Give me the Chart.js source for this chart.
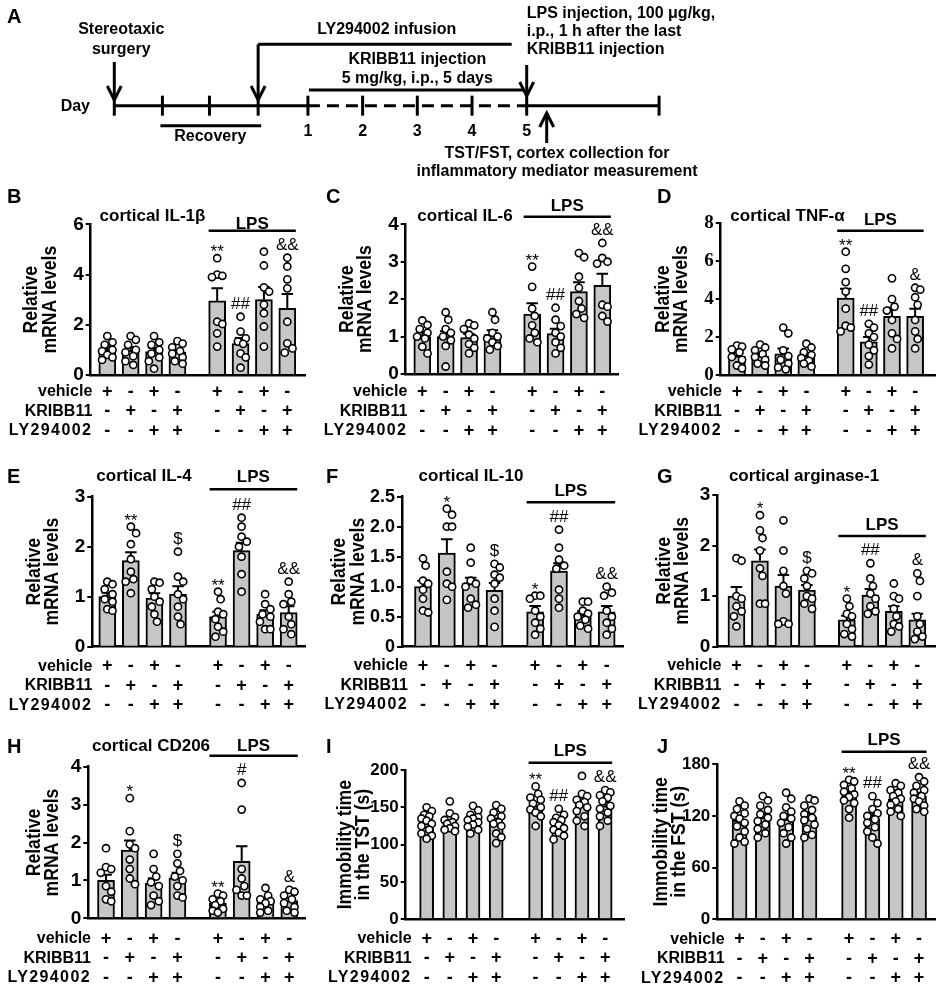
<!DOCTYPE html>
<html><head><meta charset="utf-8">
<script src="https://cdn.jsdelivr.net/npm/chart.js@4.4.1/dist/chart.umd.min.js"></script>
<style>
html,body{margin:0;padding:0;background:#fff;}
body{width:941px;height:985px;position:relative;overflow:hidden;}
canvas{position:absolute;}
</style></head>
<body>
<script>
// ---------------- DATA ----------------
const vehicleRow = ['+','-','+','-','+','-','+','-'];
const kribbRow   = ['-','+','-','+','-','+','-','+'];
const lyRow      = ['-','-','+','+','-','-','+','+'];
const rowNames   = ['vehicle','KRIBB11','LY294002'];

// timeline (panel A), in day units (day 1 = 0)
const timelineTicks = [-3.54,-2.66,-1.8,-0.91,0,1,2,3,4,6.42];
const timelineDays  = ['','','','','1','2','3','4','5',''];

// B: cortical IL-1beta
const il1bTicks = [0,2,4,6];
const il1bMeans = [1.0,0.98,0.93,0.9,2.95,1.25,3.0,2.65];
const il1bSem   = [0.12,0.13,0.15,0.1,0.5,0.22,0.5,0.57];
const il1bPoints = [
 [1.55,1.3,1.2,1.0,0.95,0.8,0.7,0.6],
 [1.55,1.4,1.2,1.0,0.9,0.75,0.55,0.4],
 [1.55,1.3,1.2,1.0,0.85,0.7,0.55,0.25],
 [1.35,1.25,1.1,0.95,0.85,0.7,0.55,0.45],
 [4.65,4.0,3.95,3.9,2.12,2.03,1.66,1.13],
 [2.32,1.73,1.46,1.33,1.24,0.86,0.7,0.29],
 [4.91,4.36,3.49,3.32,2.8,2.46,1.93,1.13],
 [4.67,4.32,3.81,3.45,2.12,1.26,1.06,0.89]];
const il1bSig = ['','','','','**','##','','&&'];

// C: cortical IL-6
const il6Ticks = [0,1,2,3,4];
const il6Means = [1.0,1.0,0.97,1.05,1.6,1.08,2.2,2.37];
const il6Sem   = [0.12,0.14,0.1,0.12,0.29,0.13,0.25,0.31];
const il6Points = [
 [1.43,1.31,1.2,1.1,1.0,0.95,0.73,0.55],
 [1.65,1.45,1.2,1.1,1.0,0.9,0.75,0.2],
 [1.35,1.3,1.2,1.05,0.95,0.8,0.7,0.55],
 [1.65,1.45,1.1,1.0,0.95,0.85,0.75,0.65],
 [2.87,2.33,1.75,1.55,1.3,1.1,0.95,0.85],
 [1.77,1.45,1.28,1.1,1.0,0.85,0.7,0.55],
 [3.23,3.12,2.6,2.3,1.95,1.75,1.6,1.5],
 [3.5,3.1,3.0,2.95,1.85,1.8,1.55,1.4]];
const il6Sig = ['','','','','**','##','','&&'];

// D: cortical TNF-alpha
const tnfTicks = [0,2,4,6,8];
const tnfMeans = [1.0,1.0,1.12,1.02,4.05,1.75,3.1,3.1];
const tnfSem   = [0.15,0.14,0.28,0.14,0.5,0.25,0.45,0.4];
const tnfPoints = [
 [1.55,1.5,1.35,1.2,0.95,0.8,0.5,0.35],
 [1.6,1.45,1.3,1.1,0.95,0.8,0.6,0.5],
 [2.5,2.2,1.3,1.0,0.8,0.6,0.4,0.3],
 [1.65,1.45,1.2,1.05,0.9,0.75,0.6,0.45],
 [6.5,5.6,4.9,4.4,3.5,2.6,2.3,2.5],
 [2.7,2.5,2.2,2.0,1.6,1.3,1.0,0.55],
 [5.1,4.0,3.6,3.4,2.9,2.2,1.9,1.4],
 [4.6,4.5,4.1,3.7,2.9,2.3,1.9,1.4]];
const tnfSig = ['','','','','**','##','','&'];

// E: cortical IL-4
const il4Ticks = [0,1,2,3];
const il4Means = [1.0,1.72,0.97,1.05,0.6,1.92,0.65,0.68];
const il4Sem   = [0.08,0.17,0.1,0.16,0.1,0.16,0.08,0.13];
const il4Points = [
 [1.3,1.25,1.15,1.05,0.95,0.9,0.75,0.72],
 [2.4,2.27,2.05,1.75,1.5,1.35,1.3,1.07],
 [1.3,1.28,1.15,1.0,0.9,0.8,0.65,0.5],
 [1.9,1.4,1.3,1.05,0.95,0.8,0.6,0.45],
 [1.1,0.95,0.7,0.65,0.55,0.4,0.3,0.2],
 [2.58,2.4,2.2,2.1,2.0,1.8,1.45,1.1],
 [1.05,0.85,0.75,0.65,0.6,0.5,0.35,0.35],
 [1.3,1.05,0.9,0.85,0.6,0.45,0.35,0.25]];
const il4Sig = ['','**','','$','**','##','','&&'];

// F: cortical IL-10
const il10Ticks = [0,0.5,1.0,1.5,2.0,2.5];
const il10Labels = ['0','0.5','1.0','1.5','2.0','2.5'];
const il10Means = [1.0,1.56,1.05,0.94,0.58,1.26,0.53,0.58];
const il10Sem   = [0.1,0.23,0.1,0.12,0.1,0.13,0.06,0.1];
const il10Points = [
 [1.47,1.35,1.1,1.05,0.95,0.8,0.6,0.57],
 [2.3,2.2,2.0,2.0,1.25,1.05,1.0,0.78],
 [1.65,1.4,1.1,1.05,1.0,0.8,0.7,0.65],
 [1.38,1.32,1.2,1.15,1.05,0.8,0.6,0.33],
 [0.85,0.85,0.8,0.6,0.5,0.4,0.3,0.2],
 [1.95,1.65,1.45,1.35,1.3,0.95,0.8,0.65],
 [0.75,0.75,0.6,0.55,0.5,0.45,0.35,0.3],
 [1.0,0.9,0.85,0.6,0.5,0.4,0.3,0.2]];
const il10Sig = ['','*','','$','*','##','','&&'];

// G: cortical arginase-1
const argTicks = [0,1,2,3];
const argMeans = [1.0,1.7,1.2,1.12,0.53,1.02,0.7,0.53];
const argSem   = [0.18,0.22,0.22,0.1,0.08,0.12,0.1,0.12];
const argPoints = [
 [1.75,1.7,1.0,0.95,0.8,0.7,0.6,0.4],
 [2.6,2.3,2.15,1.9,1.55,1.4,0.85,0.85],
 [2.5,1.9,1.5,1.2,1.05,0.5,0.45,0.45],
 [1.5,1.45,1.35,1.2,1.0,0.95,0.85,0.75],
 [0.95,0.8,0.65,0.6,0.45,0.35,0.25,0.2],
 [1.65,1.35,1.2,1.05,0.95,0.8,0.7,0.65],
 [1.25,1.0,0.95,0.75,0.6,0.45,0.4,0.3],
 [1.45,1.3,1.0,0.6,0.45,0.3,0.2,0.15]];
const argSig = ['','*','','$','*','##','','&'];

// H: cortical CD206
const cd206Ticks = [0,1,2,3,4];
const cd206Means = [1.0,1.8,0.92,1.07,0.4,1.5,0.43,0.47];
const cd206Sem   = [0.15,0.25,0.14,0.13,0.06,0.4,0.07,0.07];
const cd206Points = [
 [1.85,1.35,1.3,1.2,0.85,0.7,0.5,0.45],
 [3.17,2.3,1.95,1.85,1.55,1.3,1.05,0.9],
 [1.7,1.3,1.1,0.95,0.85,0.6,0.45,0.35],
 [1.7,1.45,1.25,1.1,1.0,0.85,0.6,0.55],
 [0.65,0.6,0.5,0.45,0.35,0.25,0.2,0.15],
 [3.57,2.87,1.3,1.05,0.85,0.75,0.6,0.6],
 [0.8,0.6,0.5,0.45,0.4,0.3,0.2,0.15],
 [0.75,0.7,0.6,0.5,0.4,0.3,0.2,0.15]];
const cd206Sig = ['','*','','$','**','#','','&'];

// I: immobility time in the TST
const tstTicks = [0,50,100,150,200];
const tstMeans = [130,129,133,130,152,128,155,152];
const tstSem   = [4,4,3.5,5,5,4,5.5,5];
const tstPoints = [
 [150,145,140,138,135,132,128,125,120,115,112,108],
 [158,142,137,133,130,128,125,122,120,118],
 [152,146,140,137,135,133,130,127,124,120,115],
 [153,148,143,138,135,130,128,125,115,110,102],
 [178,168,163,160,155,150,147,143,138,125],
 [148,140,136,133,130,126,122,120,116,112,107],
 [192,168,165,160,157,153,150,145,138,132,125],
 [173,170,166,163,158,152,148,143,138,132,125]];
const tstSig = ['','','','','**','##','','&&'];

// J: immobility time in the FST
const fstTicks = [0,60,120,180];
const fstMeans = [115,118,116,119,145,117,140,143];
const fstSem   = [5,5,6,5,4,5,4,4];
const fstPoints = [
 [137,132,128,123,120,117,112,108,102,95,90,88],
 [143,138,132,127,122,118,114,110,105,100,95],
 [147,140,130,125,120,117,112,107,100,95,88],
 [140,138,132,127,122,118,115,110,105,98,95],
 [162,160,156,152,148,145,142,138,135,128,118],
 [143,135,128,123,120,116,112,107,102,95,88],
 [158,155,150,147,143,140,137,133,128,125,120],
 [165,160,155,150,147,143,140,137,132,128,125]];
const fstSig = ['','','','','**','##','','&&'];

// ---------------- LAYOUT ----------------
const SANS = '"Liberation Sans", Arial, Helvetica, sans-serif';
const SERIF = '"Liberation Serif", "Times New Roman", serif';
const slots = [0,1,2,3,4.7,5.7,6.7,7.7];

function makeCanvas(x,y,w,h){
  const c=document.createElement('canvas');
  c.width=w;c.height=h;
  c.style.left=x+'px';c.style.top=y+'px';c.style.width=w+'px';c.style.height=h+'px';
  document.body.appendChild(c);
  return c;
}

function swarm(vals, pxY, maxHalf){
  const order = vals.map((v,i)=>i).sort((a,b)=>vals[b]-vals[a]);
  const placed=[]; const off=new Array(vals.length).fill(0);
  const D=7.6, step=2.6;
  const cands=[0];
  for(let k=1;k*step<=maxHalf;k++){cands.push(k*step,-k*step);}
  for(const i of order){
    const y=vals[i]*pxY;
    let best=0,bestScore=-1;
    for(const c of cands){
      let mind=Infinity;
      for(const p of placed){const d=Math.hypot(p.x-c,p.y-y);if(d<mind)mind=d;}
      if(mind>=D){best=c;bestScore=Infinity;break;}
      if(mind>bestScore){bestScore=mind;best=c;}
    }
    placed.push({x:best,y});off[i]=best;
  }
  return off;
}

function drawArrow(c,x,fromY,tipY){
  const dir = tipY>fromY?1:-1;
  c.beginPath();c.moveTo(x,fromY);c.lineTo(x,tipY);c.stroke();
  c.beginPath();c.moveTo(x-7,tipY-dir*14);c.lineTo(x,tipY);c.lineTo(x+7,tipY-dir*14);c.stroke();
}

// ---------------- PANEL A (timeline) ----------------
(function(){
  const W=941,H=183;
  const cv=makeCanvas(0,0,W,H);
  const deco={
    id:'timelineDeco',
    afterDraw(chart){
      const c=chart.ctx, xs=chart.scales.x;
      const tx=i=>xs.getPixelForValue(timelineTicks[i]);
      c.save();
      c.fillStyle='#000';c.strokeStyle='#000';c.lineWidth=3;c.lineJoin='miter';c.lineCap='butt';
      c.font='bold 20px '+SANS;c.textAlign='left';c.textBaseline='middle';
      c.fillText('A',7,17);
      c.font='bold 16px '+SANS;c.textAlign='center';
      c.fillText('Stereotaxic',tx(0)+7,29.3);
      c.fillText('surgery',tx(0)+7,49.3);
      drawArrow(c,tx(0),62,100);
      c.fillText('LY294002 infusion',386.7,29.3);
      c.beginPath();c.moveTo(tx(3),44.3);c.lineTo(511.7,44.3);c.stroke();
      drawArrow(c,tx(3),44.3,100);
      const mid=(tx(4)+tx(8))/2;
      c.fillText('KRIBB11 injection',mid,60);
      c.fillText('5 mg/kg, i.p., 5 days',mid,78.3);
      c.beginPath();c.moveTo(tx(4)+1,90);c.lineTo(tx(8)-3,90);c.stroke();
      c.textAlign='right';c.fillText('Day',90,107);
      c.textAlign='center';
      timelineDays.forEach((d,i)=>{if(d)c.fillText(d,tx(i),131.7);});
      c.beginPath();c.moveTo(tx(1)-2,125.7);c.lineTo(tx(3)+3,125.7);c.stroke();
      c.fillText('Recovery',(tx(1)+tx(3))/2,137);
      c.textAlign='left';
      c.fillText('LPS injection, 100 \u03BCg/kg,',526.7,13.3);
      c.fillText('i.p., 1 h after the last',526.7,31.7);
      c.fillText('KRIBB11 injection',526.7,50);
      drawArrow(c,tx(8),65,96);
      const ax=tx(8)+20;
      drawArrow(c,ax,143,113);
      c.textAlign='center';
      c.fillText('TST/FST, cortex collection for',557,153.3);
      c.fillText('inflammatory mediator measurement',557,171.3);
      c.restore();
    }
  };
  new Chart(cv.getContext('2d'),{
    type:'line',
    data:{datasets:[{
      data:timelineTicks.map(x=>({x,y:0})),
      borderColor:'#000',borderWidth:3,tension:0,
      pointStyle:'line',rotation:90,pointRadius:10,pointBorderWidth:3,pointBorderColor:'#000',
      pointBackgroundColor:'#000',clip:false,
      segment:{borderDash:ctx=>(ctx.p0.parsed.x>=0&&ctx.p1.parsed.x<=4)?[12,7]:undefined}
    }]},
    options:{
      responsive:false,animation:false,
      layout:{padding:0},
      plugins:{legend:{display:false},tooltip:{enabled:false}},
      scales:{
        x:{type:'linear',display:false,min:-303.3/56.25,max:(941-303.3)/56.25},
        y:{type:'linear',display:false,min:-75,max:108}
      }
    },
    plugins:[deco]
  });
})();

// ---------------- BAR PANELS ----------------
function barPanel(g,d){
  const [cl,ct,cw,ch]=g.box;
  const pxX=(g.bar8-g.bar1)/(slots[7]-slots[0]);
  const xMin=slots[0]-(g.bar1-g.axisX)/pxX;
  const xMax=slots[7]+(g.axisEnd-g.bar8)/pxX;
  const yMax=d.yTicks[d.yTicks.length-1];
  const pxY=(g.y0-g.yTop)/yMax;
  const barW=Math.round(pxX*(g.barFrac||0.72));
  const pts=[];
  d.points.forEach((vals,i)=>{
    const offs=swarm(vals,pxY,barW/2-1.5);
    vals.forEach((v,k)=>pts.push({x:slots[i]+offs[k]/pxX,y:v}));
  });
  const lh=19.5;
  const labels=d.yLabels||d.yTicks.map(String);
  const cv=makeCanvas(cl,ct,cw,ch);
  const deco={
    id:'deco'+d.letter,
    afterDatasetDraw(chart,args){
      if(args.index!==0)return;
      const c=chart.ctx,xs=chart.scales.x,ys=chart.scales.y;
      c.save();c.strokeStyle='#000';c.lineWidth=2;
      d.means.forEach((m,i)=>{
        const x=xs.getPixelForValue(slots[i]);
        const yT=ys.getPixelForValue(m+d.sem[i]);
        const yM=ys.getPixelForValue(m);
        const cap=barW*0.34;
        c.beginPath();c.moveTo(x,yM);c.lineTo(x,yT);c.moveTo(x-cap,yT);c.lineTo(x+cap,yT);c.stroke();
      });
      c.restore();
    },
    afterDraw(chart){
      const c=chart.ctx,xs=chart.scales.x,ys=chart.scales.y;
      c.save();c.fillStyle='#000';c.strokeStyle='#000';
      c.font='bold 20px '+SANS;c.textAlign='left';c.textBaseline='middle';
      c.fillText(d.letter,g.letter[0]-cl,g.letter[1]-ct);
      if(d.title){c.font='bold 17px '+SANS;c.textAlign='center';c.fillText(d.title,g.title[0]-cl,g.title[1]-ct);}
      const lx0=xs.getPixelForValue(slots[4])-barW/2, lx1=xs.getPixelForValue(slots[7])+barW/2;
      c.lineWidth=2.5;c.beginPath();c.moveTo(lx0,g.lpsLineY-ct);c.lineTo(lx1,g.lpsLineY-ct);c.stroke();
      c.font='bold 17px '+SANS;c.textAlign='center';
      c.fillText('LPS',(lx0+lx1)/2,g.lpsTextY-ct);
      // y-axis title (two rotated lines, baseline positions given)
      const yc=(g.yTop+g.y0)/2-ct;
      c.font='bold 21px '+SANS;
      d.yTitle.forEach((t,k)=>{
        c.save();c.translate(g.yTitleX[k]-cl-(k===0?1.5:0),yc);c.rotate(-Math.PI/2);c.scale(0.84,1);
        c.textAlign='center';c.textBaseline='alphabetic';c.fillText(t,0,0);c.restore();
      });
      // row labels
      c.font='bold 16px '+SANS;c.textAlign='right';c.textBaseline='middle';
      rowNames.forEach((r,k)=>{
        c.save();
        if(k===2){c.letterSpacing='1.4px';}
        c.fillText(r,xs.getPixelForValue(slots[0])-15,g.y0-ct+g.rowOff+k*lh);
        c.restore();
      });
      // significance marks
      c.textAlign='center';c.textBaseline='alphabetic';c.font='17px '+SANS;
      d.sig.forEach((s,i)=>{
        if(!s)return;
        const top=Math.max(...d.points[i],d.means[i]+d.sem[i]);
        const py=ys.getPixelForValue(top);
        const x=xs.getPixelForValue(slots[i]);
        c.fillText(s,x,s.includes('*')?py-1:py-8);
      });
      c.restore();
    }
  };
  new Chart(cv.getContext('2d'),{
    type:'bar',
    data:{datasets:[
      {type:'bar',data:slots.map((x,i)=>({x,y:d.means[i]})),backgroundColor:'#c6c6c6',
       borderColor:'#000',borderWidth:2,barThickness:barW,order:2},
      {type:'scatter',data:pts,pointRadius:3.6,pointBackgroundColor:'#fff',pointBorderColor:'#000',
       pointBorderWidth:1.6,order:1,clip:false}
    ]},
    options:{
      responsive:false,animation:false,
      layout:{padding:{top:g.yTop-ct,left:0,right:cl+cw-g.axisEnd,bottom:0}},
      plugins:{legend:{display:false},tooltip:{enabled:false}},
      scales:{
        x:{type:'linear',min:xMin,max:xMax,offset:false,
          grid:{display:false,drawTicks:false},
          border:{display:true,color:'#000',width:2.5},
          afterBuildTicks:s=>{s.ticks=slots.map(v=>({value:v}));},
          afterFit:s=>{s.height=ct+ch-g.y0;},
          ticks:{autoSkip:false,maxRotation:0,minRotation:0,padding:g.rowOff-lh/2,color:'#000',
            font:{family:SANS,size:18,weight:'bold',lineHeight:lh/18},
            callback:(v,i)=>[vehicleRow[i],kribbRow[i],lyRow[i]]}
        },
        y:{type:'linear',min:0,max:yMax,
          grid:{drawOnChartArea:false,drawTicks:true,tickLength:5,color:'#000',lineWidth:2},
          border:{display:true,color:'#000',width:2.5},
          afterBuildTicks:s=>{s.ticks=d.yTicks.map(v=>({value:v}));},
          afterFit:s=>{s.width=g.axisX-cl;},
          ticks:{padding:2,color:'#000',font:{family:d.serif?SERIF:SANS,size:d.tickSize||18,weight:'bold'},
            callback:(v,i)=>labels[i]}
        }
      }
    },
    plugins:[deco]
  });
}

const rel=['Relative','mRNA levels'];
barPanel({box:[0,183,315,257],axisX:90.7,bar1:107.3,bar8:287.3,axisEnd:305,yTop:224.3,y0:375,rowOff:17,
  yTitleX:[38,55.5],title:[152.5,216.7],lpsTextY:224,lpsLineY:230.7,letter:[7,197]},
  {letter:'B',title:'cortical IL-1\u03B2',yTitle:rel,yTicks:il1bTicks,means:il1bMeans,sem:il1bSem,points:il1bPoints,sig:il1bSig,tickSize:19});
barPanel({box:[315,183,315,257],axisX:405.7,bar1:422.3,bar8:602.3,axisEnd:618.3,yTop:224.3,y0:374,rowOff:17.7,
  yTitleX:[354,371],title:[465,216.7],lpsTextY:206.7,lpsLineY:216.7,letter:[326,197]},
  {letter:'C',title:'cortical IL-6',yTitle:rel,yTicks:il6Ticks,means:il6Means,sem:il6Sem,points:il6Points,sig:il6Sig,tickSize:19});
barPanel({box:[630,183,311,257],axisX:720.7,bar1:737.3,bar8:919.3,axisEnd:940,yTop:223.3,y0:375,rowOff:17,
  yTitleX:[670,687],title:[787.5,216.7],lpsTextY:220,lpsLineY:230.7,letter:[657,197]},
  {letter:'D',title:'cortical TNF-\u03B1',yTitle:rel,yTicks:tnfTicks,means:tnfMeans,sem:tnfSem,points:tnfPoints,sig:tnfSig,serif:true,tickSize:19});
barPanel({box:[0,458,315,257],axisX:92.3,bar1:107.3,bar8:288.7,axisEnd:305,yTop:496.7,y0:646.7,rowOff:19.7,
  yTitleX:[41,57.5],title:[144,476.7],lpsTextY:477.7,lpsLineY:489.3,letter:[7,477]},
  {letter:'E',title:'cortical IL-4',yTitle:rel,yTicks:il4Ticks,means:il4Means,sem:il4Sem,points:il4Points,sig:il4Sig,tickSize:19});
barPanel({box:[315,458,315,257],axisX:402,bar1:423,bar8:606.7,axisEnd:623.3,yTop:496.7,y0:646.7,rowOff:19.3,
  yTitleX:[346,364],title:[471,476],lpsTextY:491.7,lpsLineY:502.3,letter:[326,477]},
  {letter:'F',title:'cortical IL-10',yTitle:rel,yTicks:il10Ticks,yLabels:il10Labels,means:il10Means,sem:il10Sem,points:il10Points,sig:il10Sig});
barPanel({box:[630,458,311,257],axisX:717.3,bar1:736.7,bar8:920,axisEnd:938.3,yTop:495,y0:646.7,rowOff:19.3,
  yTitleX:[671,688],title:[804,476.7],lpsTextY:525,lpsLineY:536,letter:[657,477]},
  {letter:'G',title:'cortical arginase-1',yTitle:rel,yTicks:argTicks,means:argMeans,sem:argSem,points:argPoints,sig:argSig,tickSize:19});
barPanel({box:[0,728,315,257],axisX:88.3,bar1:106,bar8:289.3,axisEnd:305,yTop:766.7,y0:918.3,rowOff:20.4,
  yTitleX:[41,57.5],title:[151,746],lpsTextY:746,lpsLineY:755.7,letter:[7,747]},
  {letter:'H',title:'cortical CD206',yTitle:rel,yTicks:cd206Ticks,means:cd206Means,sem:cd206Sem,points:cd206Points,sig:cd206Sig,tickSize:19});
barPanel({box:[315,728,315,257],axisX:405.7,bar1:426.7,bar8:605.7,axisEnd:625,yTop:770,y0:919.3,rowOff:19.4,barFrac:0.62,
  yTitleX:[352,368.5],title:null,lpsTextY:751.7,lpsLineY:762.7,letter:[326,747]},
  {letter:'I',title:null,yTitle:['Immobility time','in the TST (s)'],yTicks:tstTicks,means:tstMeans,sem:tstSem,points:tstPoints,sig:tstSig,tickSize:17});
barPanel({box:[630,728,311,257],axisX:717.3,bar1:740,bar8:923.3,axisEnd:940,yTop:764.3,y0:919.3,rowOff:20,barFrac:0.64,
  yTitleX:[668,684.5],title:null,lpsTextY:740,lpsLineY:751.7,letter:[657,747]},
  {letter:'J',title:null,yTitle:['Immobility time','in the FST (s)'],yTicks:fstTicks,means:fstMeans,sem:fstSem,points:fstPoints,sig:fstSig,tickSize:17});
</script>
</body></html>
